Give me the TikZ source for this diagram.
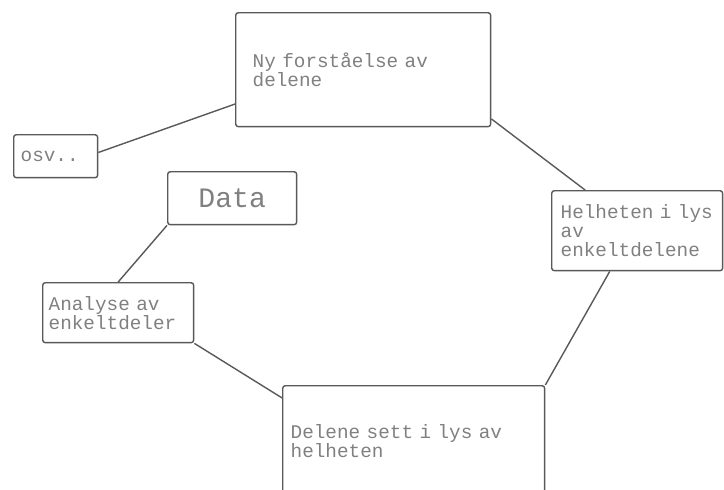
\documentclass[tikz,border=0pt]{standalone}
\usepackage{fontspec}
\setmonofont{Liberation Mono}
\begin{document}
\begin{tikzpicture}[x=0.02cm,y=-0.02cm,
    boks/.style={draw=black!65,line width=0.8pt,rounded corners=1.5pt,anchor=north west,
      align=left,inner ysep=0pt,text=black!50,font=\ttfamily\fontsize{11}{10.8}\selectfont}]
  \useasboundingbox (0,0) rectangle (724,490);
  \draw
    (235,12) node[boks,inner xsep=0.34cm,minimum width=5.1cm,minimum height=2.28cm,text width=4.42cm] (ny){Ny forståelse av\\delene}
    (13,134) node[boks,inner xsep=0.14cm,minimum width=1.68cm,minimum height=0.86cm,text width=1.4cm] (osv){osv..}
    (167,171) node[boks,align=center,minimum width=2.58cm,minimum height=1.06cm,font=\ttfamily\fontsize{16}{18}\selectfont] (data){Data}
    (42,282) node[boks,inner xsep=0.12cm,minimum width=3.02cm,minimum height=1.2cm,text width=2.78cm] (analyse){Analyse av\\enkeltdeler}
    (551,190) node[boks,inner xsep=0.18cm,minimum width=3.42cm,minimum height=1.6cm,text width=3.06cm] (helhet){\mbox{Helheten i lys}\\av\\enkeltdelene}
    (282,385) node[boks,inner xsep=0.16cm,minimum width=5.24cm,minimum height=2.2cm,text width=4.92cm] (delene){Delene sett i lys av\\helheten};
  \begin{scope}[draw=black!65,line width=0.8pt]
    \draw (osv.5) to (ny.195);
    \draw (ny.339) to (helhet.142);
    \draw (helhet.236) to (delene.north east);
    \draw (delene.162) to (analyse.south east);
    \draw (analyse.north) to (data.south west);
  \end{scope}
\end{tikzpicture}
\end{document}
